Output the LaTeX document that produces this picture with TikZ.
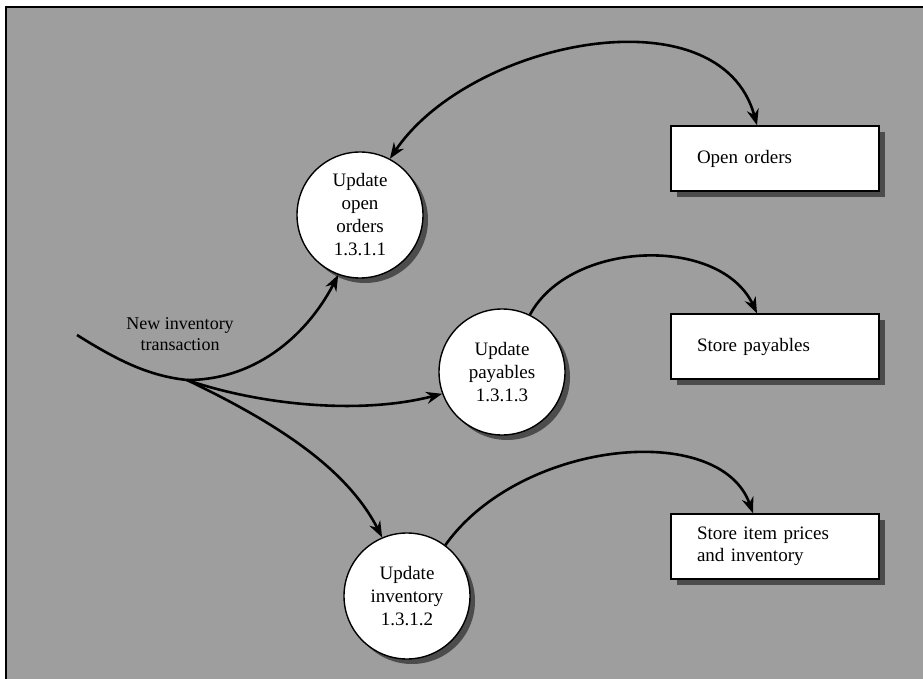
\documentclass[tikz,border=0pt]{standalone}
\usepackage{fontspec}
\setmainfont{Liberation Serif}
\usetikzlibrary{arrows.meta,shadows}

\begin{document}
\begin{tikzpicture}[x=1pt, y=-1pt,
    process/.style={circle, draw, line width=1.4pt, fill=white,
                    minimum size=126pt, inner sep=0pt, align=center,
                    font=\fontsize{19}{23}\selectfont,
                    drop shadow={shadow xshift=5pt, shadow yshift=-5pt,
                                 fill=black!70, opacity=1}},
    store/.style={rectangle, draw, line width=1.4pt, fill=white,
                  minimum width=208pt, minimum height=65pt,
                  text width=156pt, inner xsep=26pt, align=left,
                  font=\fontsize{19}{22}\selectfont,
                  drop shadow={shadow xshift=6pt, shadow yshift=-6pt,
                               fill=black!70, opacity=1}},
    flow/.style={line width=2.6pt, -{Stealth[length=16pt,width=12pt]}}]

    \useasboundingbox (0,0) rectangle (923,679);
    % background and frame
    \fill[black!38] (6,7) rectangle (923,679);
    \draw[line width=2pt] (6,679) -- (6,7) -- (923,7);

    % processes
    \node[process] (upopen) at (360,215) {Update\\open\\orders\\1.3.1.1};
    \node[process] (uppay) at (502,372) {Update\\payables\\1.3.1.3};
    \node[process] (upinv) at (407,596) {Update\\inventory\\1.3.1.2};

    % data stores
    \node[store] (openord) at (775,158.5) {Open orders};
    \node[store] (storepay) at (775,346.5) {Store payables};
    \node[store] (storeinv) at (775,546.5) {Store item prices\\and inventory};

    % incoming flow
    \coordinate (src) at (77,335);
    \coordinate (fork) at (187,380);
    \node[font=\fontsize{18}{21}\selectfont, align=center] (newtr) at (180,334)
        {New inventory\\transaction};
    \draw[line width=2.6pt] (src) .. controls (120,362) and (150,376) .. (fork);
    \draw[flow] (fork) .. controls (260,380) and (310,330) .. (upopen.250);
    \draw[flow] (fork) .. controls (260,405) and (360,415) .. (uppay.200);
    \draw[flow] (fork) .. controls (270,420) and (345,465) .. (upinv.113);

    % flows to the stores
    \draw[flow, {Stealth[length=16pt,width=12pt]}-{Stealth[length=16pt,width=12pt]}]
        (upopen.62) .. controls (470,40) and (720,-10) .. ([xshift=-18pt]openord.north);
    \draw[flow] (uppay.64) .. controls (570,240) and (720,235) .. ([xshift=-18pt]storepay.north);
    \draw[flow] (upinv.53) .. controls (520,440) and (720,420) .. ([xshift=-22pt]storeinv.north);
\end{tikzpicture}
\end{document}
